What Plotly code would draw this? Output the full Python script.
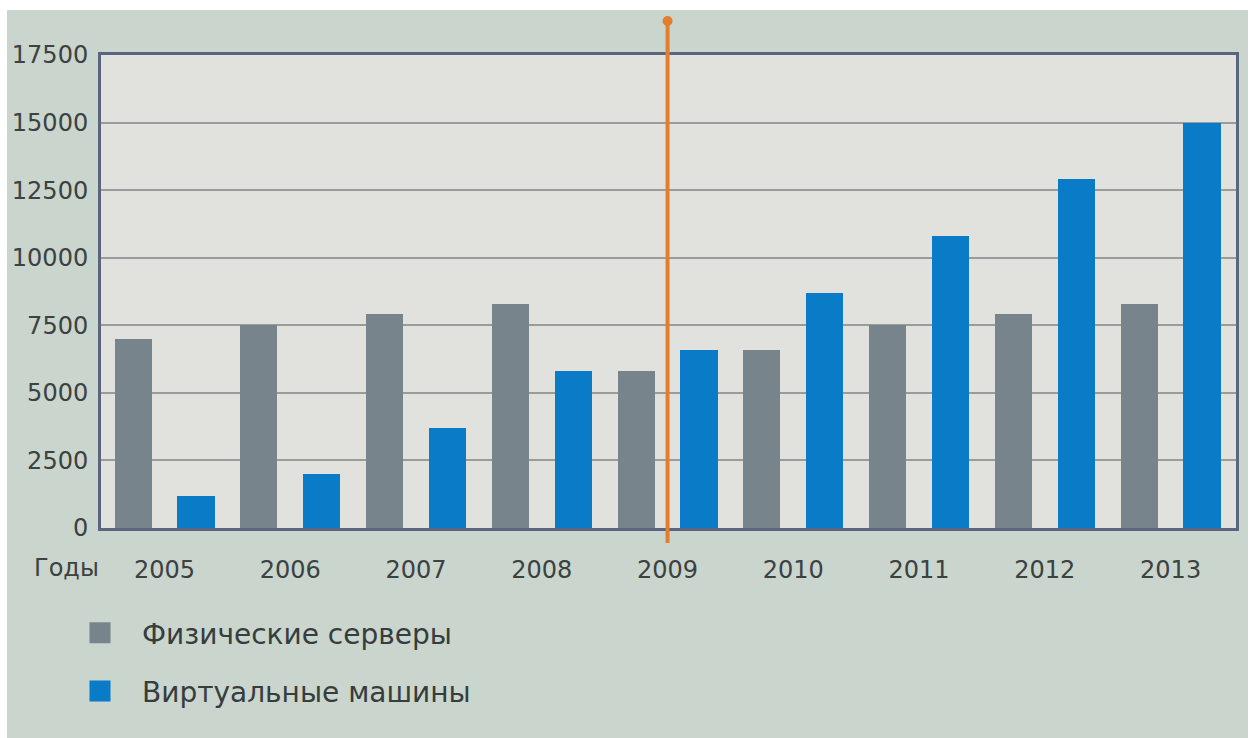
import plotly.graph_objects as go

years = ["2005", "2006", "2007", "2008", "2009", "2010", "2011", "2012", "2013"]
physical_servers = [7000, 7500, 7900, 8300, 5800, 6600, 7500, 7900, 8300]
virtual_machines = [1200, 2000, 3700, 5800, 6600, 8700, 10800, 12900, 15000]
y_ticks = [0, 2500, 5000, 7500, 10000, 12500, 15000, 17500]
series_names = ["Физические серверы", "Виртуальные машины"]
marker_year = "2009"
axis_label = "Годы"

GRAY = "#78848b"
BLUE = "#0a7bc6"
ORANGE = "#e27e2c"
OUTER_BG = "#c9d5cd"
PLOT_BG = "#e1e1de"
FRAME = "#5b6580"
TEXT = "#3c4141"
FONT = "DejaVu Sans"

x_phys = [2 * i for i in range(len(years))]
x_virt = [2 * i + 1 for i in range(len(years))]
tick_pos = [2 * i + 0.5 for i in range(len(years))]
marker_x = 2 * years.index(marker_year) + 0.5

fig = go.Figure()
fig.add_trace(go.Bar(x=x_phys, y=physical_servers, name=series_names[0],
                     marker=dict(color=GRAY, line=dict(width=0)), width=0.59,
                     showlegend=False))
fig.add_trace(go.Bar(x=x_virt, y=virtual_machines, name=series_names[1],
                     marker=dict(color=BLUE, line=dict(width=0)), width=0.59,
                     showlegend=False))
# legend entries (square swatches)
for name, col, grp in [(series_names[0], GRAY, "a"), (series_names[1], BLUE, "b")]:
    fig.add_trace(go.Scatter(x=[None], y=[None], mode="markers", name=name,
                             legendgroup=grp,
                             marker=dict(symbol="square", size=16, color=col,
                                         line=dict(color=col, width=5))))

W, H = 1254, 738
L, R, T, B = 101, 18, 55, 210
pw, ph = W - L - R, H - T - B

def px_x(p):
    return (p - L) / pw

def px_y(p):
    return (H - B - p) / ph

shapes = [
    dict(type="rect", xref="paper", yref="paper", layer="below",
         x0=px_x(7), x1=px_x(1248), y0=px_y(738), y1=px_y(10),
         fillcolor=OUTER_BG, line=dict(width=0)),
    dict(type="rect", xref="paper", yref="paper", layer="below",
         x0=0, x1=1, y0=0, y1=1, fillcolor=PLOT_BG, line=dict(width=0)),
    dict(type="line", xref="x", yref="paper", x0=marker_x, x1=marker_x,
         y0=px_y(543), y1=px_y(20), line=dict(color=ORANGE, width=4)),
    dict(type="circle", xref="x", yref="paper", xsizemode="pixel", ysizemode="pixel",
         xanchor=marker_x, yanchor=px_y(21), x0=-5, x1=5, y0=-5, y1=5,
         fillcolor=ORANGE, line=dict(width=0)),
]

fig.update_layout(
    width=W, height=H,
    margin=dict(l=L, r=R, t=T, b=B, pad=0, autoexpand=False),
    paper_bgcolor="white",
    plot_bgcolor="rgba(0,0,0,0)",
    font=dict(family=FONT, color=TEXT, size=24),
    barmode="overlay",
    bargap=0,
    shapes=shapes,
    showlegend=True,
    legend=dict(x=px_x(58), y=px_y(608), xanchor="left", yanchor="top",
                bgcolor="rgba(0,0,0,0)", font=dict(size=28, color="#373c3c", family=FONT),
                tracegroupgap=19, traceorder="grouped", itemwidth=74),
    annotations=[dict(text=axis_label, xref="paper", yref="paper",
                      x=px_x(66), y=px_y(568), showarrow=False,
                      font=dict(size=24, color=TEXT, family=FONT),
                      xanchor="center", yanchor="middle")],
)

fig.update_xaxes(range=[-0.51, 17.54], tickmode="array", tickvals=tick_pos, ticktext=years,
                 showgrid=False, zeroline=False, showline=True, mirror=True,
                 linecolor=FRAME, linewidth=3, ticks="", ticklabelstandoff=18,
                 automargin=False, tickfont=dict(size=24, color=TEXT))
fig.update_yaxes(range=[0, 17500], tickmode="array", tickvals=y_ticks,
                 ticktext=[str(v) for v in y_ticks],
                 showgrid=True, gridcolor="#9a9c9c", gridwidth=2, zeroline=False,
                 showline=True, mirror=True, linecolor=FRAME, linewidth=3,
                 ticks="", ticklabelstandoff=5, automargin=False,
                 tickfont=dict(size=24, color=TEXT))

fig.write_html("out.html")
